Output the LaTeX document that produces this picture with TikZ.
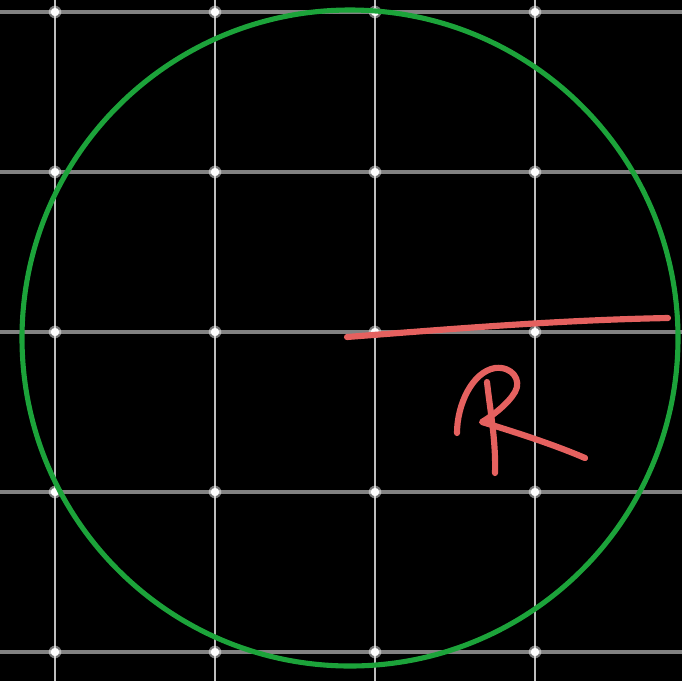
\documentclass[tikz,border=0pt]{standalone}
\definecolor{gridh}{HTML}{828282}
\definecolor{gridv}{HTML}{BDBDBD}
\definecolor{circgreen}{HTML}{1CA33A}
\definecolor{penred}{HTML}{E5615F}
\tikzset{
  hline/.style={gridh, line width=1.05pt},
  vline/.style={gridv, line width=0.8pt},
  dotglow/.style={circle, fill=white, fill opacity=0.45, inner sep=0pt, minimum size=3.6pt},
  griddot/.style={circle, fill=white, inner sep=0pt, minimum size=2.4pt},
  ink/.style={penred, line width=1.75pt, line cap=round, line join=round},
}
\begin{document}
\begin{tikzpicture}[x=0.01cm, y=-0.01cm]
  \fill[black] (0,0) rectangle (682,681);
  \useasboundingbox (0,0) rectangle (682,681);
  \foreach \y in {12,172,332,492,652} \draw[hline] (0,\y) -- (682,\y);
  \foreach \x in {55,215,375,535} \draw[vline] (\x,0) -- (\x,681);
  \foreach \x in {55,215,375,535} \foreach \y in {12,172,332,492,652} {
    \node[dotglow] at (\x,\y) {};
    \node[griddot] at (\x,\y) {};
  }
  \draw[circgreen, line width=1.45pt] (350,338) circle [radius=328];
  \coordinate (c) at (347,337);
  \coordinate (e) at (668,318);
  \draw[ink] (c) .. controls (450,329) and (560,320) .. (e);
  % handwritten R
  \draw[ink] (457,433) .. controls (457,405) and (472,372) .. (495,368)
     .. controls (512,366) and (522,380) .. (515,392)
     .. controls (508,404) and (492,416) .. (482,422)
     .. controls (515,432) and (555,445) .. (585,458);
  \draw[ink] (487,382) .. controls (490,410) and (496,440) .. (495,473);
\end{tikzpicture}
\end{document}
